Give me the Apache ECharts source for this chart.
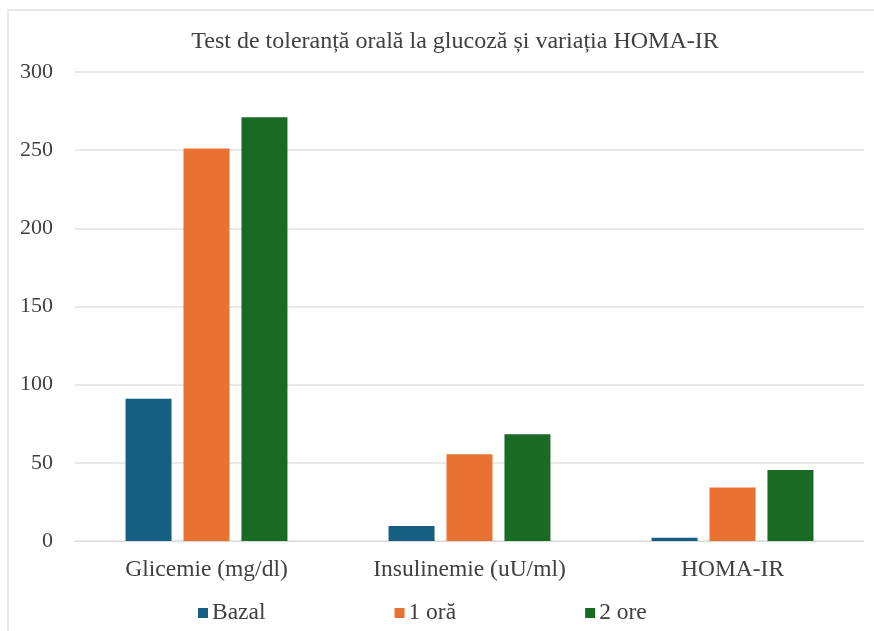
<!DOCTYPE html>
<html>
<head>
<meta charset="utf-8">
<script src="https://cdn.jsdelivr.net/npm/echarts@6/dist/echarts.min.js"></script>
<style>
  html, body { margin: 0; padding: 0; background: #ffffff; }
  #frame { position: absolute; left: 7px; top: 9px; width: 867px; height: 622px;
           border-left: 2px solid #e9e9e9; border-top: 2px solid #e9e9e9; }
  #chart { position: absolute; left: 0; top: 0; width: 874px; height: 631px; }
</style>
</head>
<body>
<div id="frame"></div>
<div id="chart"></div>
<script>
// Oral glucose tolerance test: values per measurement and time point
const categories = ['Glicemie (mg/dl)', 'Insulinemie (uU/ml)', 'HOMA-IR'];
const seriesNames = ['Bazal', '1 oră', '2 ore'];
const bazal = [91, 9.6, 2.1];
const oneHour = [251, 55.5, 34.3];
const twoHours = [271, 68.3, 45.4];
const yTicks = { min: 0, max: 300, step: 50 };

const colors = ['#156082', '#E97132', '#196B24'];
const font = 'Liberation Serif, Times New Roman, serif';

const chart = echarts.init(document.getElementById('chart'), null, { renderer: 'canvas' });
chart.setOption({
  animation: false,
  color: colors,
  textStyle: { fontFamily: font },
  title: {
    text: 'Test de toleranță orală la glucoză și variația HOMA-IR',
    left: 450,
    top: 25,
    textAlign: 'center',
    textStyle: { fontFamily: font, fontSize: 24, fontWeight: 'normal', color: '#404040' }
  },
  legend: {
    left: 193,
    top: 596,
    itemWidth: 10,
    itemHeight: 10,
    itemGap: 129,
    icon: 'rect',
    textStyle: { fontFamily: font, fontSize: 23.5, color: '#404040', padding: [0, 0, 0, -1] },
    data: seriesNames
  },
  grid: { left: 75, right: 10, top: 72, bottom: 90, containLabel: false },
  xAxis: {
    type: 'category',
    data: categories,
    axisLine: { show: true, lineStyle: { color: '#d9d9d9', width: 1 } },
    axisTick: { show: false },
    axisLabel: { fontFamily: font, fontSize: 23.5, color: '#404040', margin: 17 }
  },
  yAxis: {
    type: 'value',
    min: yTicks.min,
    max: yTicks.max,
    interval: yTicks.step,
    axisLine: { show: false },
    axisTick: { show: false },
    splitLine: { lineStyle: { color: '#e3e3e3', width: 1.5 } },
    axisLabel: { fontFamily: font, fontSize: 22, color: '#404040', margin: 22 }
  },
  series: [
    { name: seriesNames[0], type: 'bar', data: bazal, barWidth: 46, barGap: '26%' },
    { name: seriesNames[1], type: 'bar', data: oneHour, barWidth: 46, barGap: '26%' },
    { name: seriesNames[2], type: 'bar', data: twoHours, barWidth: 46, barGap: '26%' }
  ]
});
</script>
</body>
</html>
